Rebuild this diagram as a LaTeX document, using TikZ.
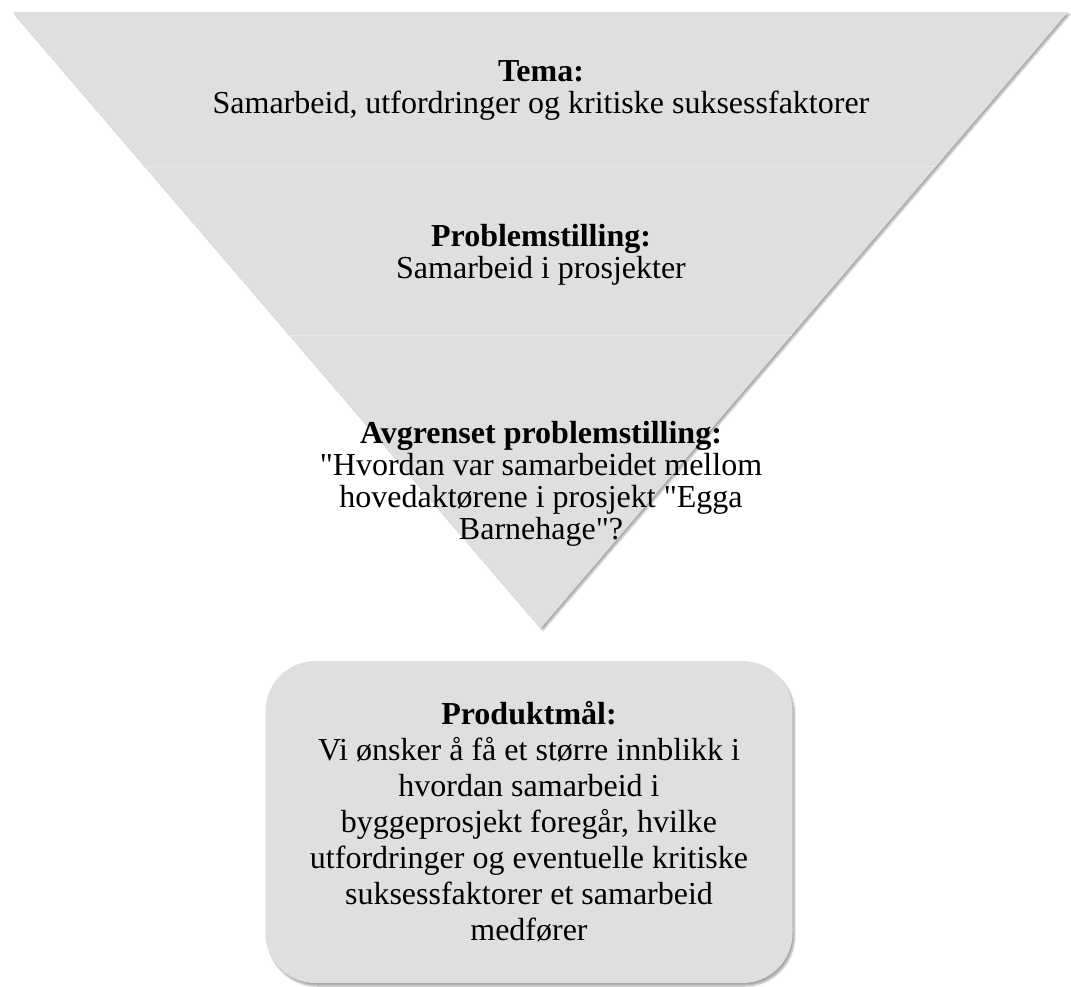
\documentclass[tikz,border=0pt]{standalone}
\usepackage{fontspec}
\setmainfont{Liberation Serif}
\usetikzlibrary{calc, positioning, shadows.blur}

\definecolor{funnelgray}{RGB}{223,223,223}
\definecolor{bandline}{RGB}{230,230,230}

\tikzset{
    funnel/.style={fill=funnelgray, blur shadow={shadow xshift=2pt, shadow yshift=-2pt, shadow blur steps=6, shadow opacity=35}},
    leveltext/.style={align=center, font=\fontsize{32}{32}\selectfont, inner sep=0pt},
    goalbox/.style={fill=funnelgray, rounded corners=50pt, minimum width=527pt, minimum height=322pt,
        align=center, font=\fontsize{32}{36}\selectfont, blur shadow={shadow xshift=2pt, shadow yshift=-3pt, shadow blur steps=6, shadow opacity=35}}
}

\begin{document}
\begin{tikzpicture}[x=1pt, y=-1pt]
            \useasboundingbox (0, 0) rectangle (1071, 987);
            \coordinate (topleft) at (13, 12);
            \coordinate (topright) at (1068, 12);
            \coordinate (apex) at (541, 628);
            \fill[funnel] (topleft) -- (topright) -- (apex) -- cycle;
            % faint lines between the levels
            \draw[bandline, line width=1pt] ($(topleft)!0.2516!(apex)$) -- ($(topright)!0.2516!(apex)$);
            \draw[bandline, line width=1pt] ($(topleft)!0.5244!(apex)$) -- ($(topright)!0.5244!(apex)$);
            \node[leveltext] (tema) at (541, 90) {\textbf{Tema:}\\Samarbeid, utfordringer og kritiske suksessfaktorer};
            \node[leveltext] (problem) at (541, 255) {\textbf{Problemstilling:}\\Samarbeid i prosjekter};
            \node[leveltext] (avgrenset) at (541, 484) {\textbf{Avgrenset problemstilling:}\\\textquotedbl Hvordan var samarbeidet mellom\\hovedaktørene i prosjekt \textquotedbl Egga\\Barnehage\textquotedbl ?};
            \node[goalbox] (produktmaal) at (529, 822) {\textbf{Produktmål:}\\Vi ønsker å få et større innblikk i\\hvordan samarbeid i\\byggeprosjekt foregår, hvilke\\utfordringer og eventuelle kritiske\\suksessfaktorer et samarbeid\\medfører};
        \end{tikzpicture}
\end{document}
